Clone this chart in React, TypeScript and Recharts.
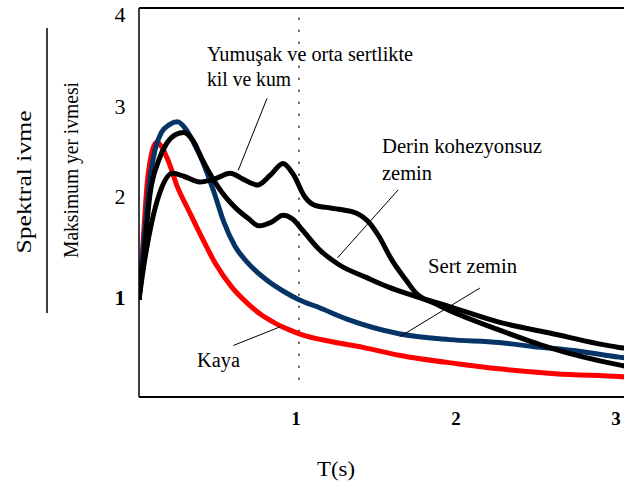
import React from "react"
import { LineChart, Line, XAxis, YAxis, ReferenceLine } from "recharts"

// period T (s) and normalised spectral acceleration
const kayaT = [0, 0.025, 0.055, 0.11, 0.18, 0.24, 0.31, 0.39, 0.475, 0.58, 0.68, 0.76, 0.85, 0.94, 1.02, 1.2, 1.4, 1.625, 2.0, 2.25, 2.6, 3.0, 3.1]
const kayaV = [1.0, 1.58, 2.26, 2.62, 2.44, 2.16, 1.92, 1.65, 1.38, 1.13, 0.96, 0.85, 0.76, 0.69, 0.64, 0.57, 0.51, 0.43, 0.34, 0.29, 0.24, 0.21, 0.2]

const sertT = [0, 0.03, 0.07, 0.1, 0.14, 0.19, 0.24, 0.29, 0.34, 0.39, 0.47, 0.53, 0.6, 0.68, 0.8, 0.9, 1.0, 1.125, 1.3, 1.625, 1.94, 2.25, 2.46, 2.75, 3.0, 3.1]
const sertV = [1.0, 1.6, 2.26, 2.54, 2.72, 2.8, 2.83, 2.76, 2.62, 2.45, 2.1, 1.8, 1.55, 1.38, 1.2, 1.09, 1.0, 0.92, 0.8, 0.65, 0.59, 0.56, 0.52, 0.47, 0.41, 0.39]

const derinT = [0, 0.03, 0.07, 0.12, 0.17, 0.23, 0.28, 0.34, 0.39, 0.46, 0.52, 0.6, 0.68, 0.75, 0.83, 0.9, 0.96, 1.02, 1.125, 1.25, 1.42, 1.56, 1.7, 1.94, 2.25, 2.56, 3.0, 3.1]
const derinV = [1.0, 1.45, 2.1, 2.42, 2.6, 2.7, 2.72, 2.63, 2.46, 2.25, 2.1, 1.95, 1.84, 1.76, 1.8, 1.87, 1.83, 1.72, 1.52, 1.36, 1.23, 1.13, 1.05, 0.93, 0.77, 0.66, 0.51, 0.49]

const yumusakT = [0, 0.03, 0.08, 0.13, 0.21, 0.28, 0.38, 0.47, 0.57, 0.65, 0.74, 0.82, 0.9, 0.96, 1.04, 1.1, 1.17, 1.25, 1.36, 1.44, 1.5, 1.58, 1.67, 1.73, 1.85, 1.94, 2.25, 2.56, 3.0, 3.1]
const yumusakV = [1.0, 1.35, 1.8, 2.1, 2.3, 2.27, 2.21, 2.24, 2.3, 2.24, 2.18, 2.28, 2.4, 2.3, 2.05, 1.97, 1.95, 1.93, 1.89, 1.79, 1.65, 1.41, 1.2, 1.07, 0.96, 0.89, 0.69, 0.51, 0.33, 0.3]

const xTicks = [1, 2, 3]
const yTicks = [1, 2, 3, 4]

const toRows = (t: number[], v: number[]) => t.map((x, i) => ({ t: x, v: v[i] }))

const serif = "Liberation Serif, Tinos, DejaVu Serif, serif"

// small nudges so the y labels sit where the scan has them
const yLabelNudge: Record<number, number> = { 4: 6, 3: 2, 2: -6, 1: -2 }

function YTick({ x, y, payload }: any) {
  const v = payload.value
  return (
    <text
      x={x - 19}
      y={y + 7 + (yLabelNudge[v] ?? 0)}
      textAnchor="middle"
      style={{ fontFamily: serif, fontSize: 22, fontWeight: v === 1 ? 700 : 400 }}
      fill="#000"
    >
      {v}
    </text>
  )
}

function XTick({ x, y, payload }: any) {
  return (
    <text x={x - 3} y={y + 28} textAnchor="middle" style={{ fontFamily: serif, fontSize: 19, fontWeight: 700 }} fill="#000">
      {payload.value}
    </text>
  )
}

export default function App() {
  const lines = [
    { name: "Kaya", data: toRows(kayaT, kayaV), color: "#ff0000" },
    { name: "Sert zemin", data: toRows(sertT, sertV), color: "#073466" },
    { name: "Derin kohezyonsuz zemin", data: toRows(derinT, derinV), color: "#000000" },
    { name: "Yumuşak ve orta sertlikte kil ve kum", data: toRows(yumusakT, yumusakV), color: "#000000" },
  ]

  const txt = { style: { fontFamily: serif, fontSize: 20 }, fill: "#000" }

  return (
    <div style={{ position: "fixed", left: 0, top: 0, width: 624, height: 490, overflow: "hidden", background: "#fff", fontFamily: serif }}>
      <LineChart width={640} height={490} margin={{ top: 8, right: 5, bottom: 0, left: 0 }}>
        <XAxis
          dataKey="t"
          type="number"
          domain={[0, 3.1]}
          ticks={xTicks}
          allowDataOverflow
          height={93}
          tickSize={0}
          tickMargin={0}
          tickLine={false}
          axisLine={{ stroke: "#000", strokeWidth: 2 }}
          tick={<XTick />}
        />
        <YAxis
          dataKey="v"
          type="number"
          domain={[0, 4]}
          ticks={yTicks}
          width={139}
          tickSize={0}
          tickMargin={0}
          tickLine={false}
          axisLine={{ stroke: "#000", strokeWidth: 1.5 }}
          tick={<YTick />}
        />
        <ReferenceLine y={4} stroke="#000" strokeWidth={2} />
        <ReferenceLine
          segment={[{ x: 1, y: 3.9 }, { x: 1, y: 0.15 }]}
          stroke="#222"
          strokeWidth={1.5}
          strokeDasharray="2 10"
        />
        {lines.map((l) => (
          <Line
            key={l.name}
            name={l.name}
            data={l.data}
            dataKey="v"
            type="monotone"
            stroke={l.color}
            strokeWidth={5}
            strokeLinejoin="round"
            dot={false}
            activeDot={false}
            isAnimationActive={false}
          />
        ))}
        {/* leader lines from the labels to the curves */}
        <ReferenceLine segment={[{ x: 0.8, y: 3.07 }, { x: 0.62, y: 2.33 }]} stroke="#000" strokeWidth={1} />
        <ReferenceLine segment={[{ x: 1.62, y: 2.13 }, { x: 1.24, y: 1.43 }]} stroke="#000" strokeWidth={1} />
        <ReferenceLine segment={[{ x: 2.13, y: 1.12 }, { x: 1.63, y: 0.62 }]} stroke="#000" strokeWidth={1} />
        <ReferenceLine segment={[{ x: 0.59, y: 0.53 }, { x: 0.88, y: 0.72 }]} stroke="#000" strokeWidth={1} />
      </LineChart>

      <svg width={624} height={490} style={{ position: "absolute", left: 0, top: 0, pointerEvents: "none" }}>
        <text {...txt} x={24} y={182} textAnchor="middle" dominantBaseline="central" transform="rotate(-90 24 182)" textLength={143} lengthAdjust="spacingAndGlyphs">
          Spektral ivme
        </text>
        <line x1={47} y1={28} x2={47} y2={313} stroke="#000" strokeWidth={1.5} />
        <text {...txt} x={71} y={170} textAnchor="middle" dominantBaseline="central" transform="rotate(-90 71 170)" textLength={176} lengthAdjust="spacingAndGlyphs">
          Maksimum yer ivmesi
        </text>
        <text {...txt} x={207} y={61} textLength={206} lengthAdjust="spacingAndGlyphs">Yumuşak ve orta sertlikte</text>
        <text {...txt} x={207} y={86} textLength={84} lengthAdjust="spacingAndGlyphs">kil ve kum</text>
        <text {...txt} x={382} y={153} textLength={160} lengthAdjust="spacingAndGlyphs">Derin kohezyonsuz</text>
        <text {...txt} x={382} y={180} textLength={50} lengthAdjust="spacingAndGlyphs">zemin</text>
        <text {...txt} x={428} y={273} textLength={89} lengthAdjust="spacingAndGlyphs">Sert zemin</text>
        <text {...txt} x={197} y={367} textLength={43} lengthAdjust="spacingAndGlyphs">Kaya</text>
        <text {...txt} x={317} y={476} textLength={38} lengthAdjust="spacingAndGlyphs">T(s)</text>
      </svg>
    </div>
  )
}
